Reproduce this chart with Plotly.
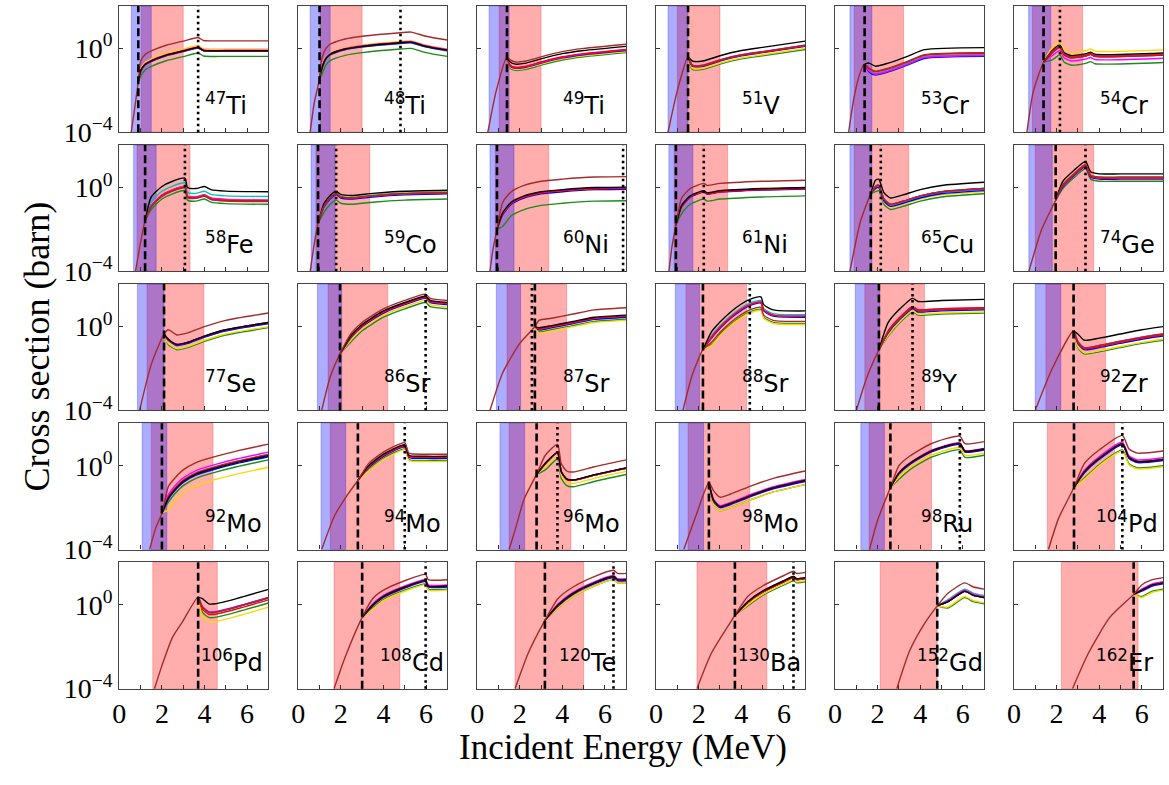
import numpy as np
import plotly.graph_objects as go

# ---------------- data ----------------
MASS = [47, 48, 49, 51, 53, 54, 58, 59, 60, 61, 65, 74, 77, 86, 87, 88, 89, 92,
        92, 94, 96, 98, 98, 104, 106, 108, 120, 130, 152, 162]
SYMBOL = ["Ti", "Ti", "Ti", "V", "Cr", "Cr", "Fe", "Co", "Ni", "Ni", "Cu", "Ge",
          "Se", "Sr", "Sr", "Sr", "Y", "Zr", "Mo", "Mo", "Mo", "Mo", "Ru", "Pd",
          "Pd", "Cd", "Te", "Ba", "Gd", "Er"]

BLUE_BAND = [(0.56, 1.5), (0.56, 1.5), (0.56, 1.5), (0.56, 1.5), (0.7, 1.73), (0.69, 1.73),
             (0.67, 1.73), (0.6, 1.73), (0.6, 1.73), (0.6, 1.73), (0.7, 1.73), (0.7, 1.8),
             (0.85, 2.1), (0.9, 2.04), (0.9, 2.04), (0.9, 2.04), (0.95, 2.1), (1.0, 2.2),
             (1.07, 2.23), (1.07, 2.23), (1.07, 2.23), (1.07, 2.23), (1.21, 2.32), None,
             None, None, None, None, None, None]
RED_BAND = [(1.03, 3.0), (1.03, 3.0), (1.03, 3.0), (1.0, 3.0), (0.9, 3.22), (0.87, 3.22),
            (0.83, 3.32), (0.83, 3.36), (0.85, 3.36), (0.85, 3.36), (0.9, 3.46), (1.0, 3.74),
            (1.3, 3.97), (1.4, 4.2), (1.4, 4.2), (1.4, 4.25), (1.4, 4.2), (1.5, 4.3),
            (1.5, 4.4), (1.5, 4.5), (1.5, 4.4), (1.5, 4.4), (1.6, 4.53), (1.57, 4.72),
            (1.57, 4.6), (1.68, 4.77), (1.78, 5.0), (1.92, 5.2), (2.12, 4.8), (2.23, 5.83)]
DASHED_E = [0.89, 1.0, 1.4, 1.5, 1.39, 1.39, 1.21, 0.93, 0.93, 0.93, 1.68, 1.96,
            2.1, 1.96, 2.71, 2.2, 2.06, 2.8, 2.0, 2.8, 2.79, 2.48, 2.6, 2.82,
            3.7, 3.0, 3.18, 3.7, 4.8, 5.62]
DOTTED_E = [3.7, 4.8, None, None, None, 2.16, 3.08, 1.78, 6.85, 2.24, 2.15, 3.36,
            None, 5.98, 2.57, 4.4, 3.64, None, None, 5.0, 3.77, None, 5.86, 5.09,
            None, 5.98, 6.4, 6.45, None, None]

# brown curve below the branching point (energy, log10 sigma)
PRE_E = [[0.56, 0.7, 0.89], [0.56, 0.75, 1.0], [0.5, 0.9, 1.4], [0.56, 1.0, 1.5],
         [0.64, 0.9, 1.2, 1.39], [0.61, 0.9, 1.39], [0.76, 1.0, 1.21], [0.56, 0.75, 0.93],
         [0.6, 0.75, 0.93], [0.6, 0.75, 0.93], [0.7, 1.2, 1.68], [0.7, 1.3, 1.96],
         [0.95, 1.5, 2.1], [1.1, 1.5, 1.96], [0.6, 1.2, 2.0, 2.71], [1.26, 1.7, 2.2],
         [1.0, 1.5, 2.06], [1.0, 1.8, 2.8], [1.42, 1.7, 2.0], [1.1, 1.7, 2.3, 2.8],
         [1.5, 1.8, 2.2, 2.79], [1.3, 1.9, 2.48], [1.62, 2.0, 2.6], [1.62, 2.1, 2.82],
         [1.65, 2.0, 2.5, 3.0, 3.7], [1.68, 2.2, 3.0], [1.78, 2.4, 3.18], [1.92, 2.6, 3.7],
         [2.9, 3.5, 4.2, 4.8], [2.75, 3.5, 4.5, 5.62]]
PRE_LOG = [[-4, -3.0, -1.6], [-4, -2.6, -1.44], [-4, -2.0, -0.4], [-4, -2.0, -0.4],
           [-4, -2.3, -1.1, -0.74], [-4, -2.1, -0.66], [-4, -2.6, -1.58], [-4, -2.7, -1.73],
           [-4, -2.9, -2.0], [-4, -2.8, -1.8], [-4, -1.6, -0.3], [-4, -2.0, -0.6],
           [-4, -1.8, -0.35], [-4, -2.4, -1.3], [-4, -2.2, -0.8, 0.0], [-4, -2.3, -1.1],
           [-4, -2.4, -1.1], [-4, -2.0, -0.2], [-4, -3.0, -2.26], [-4, -2.4, -1.4, -0.7],
           [-4, -3.0, -1.6, -0.41], [-4, -2.3, -0.8], [-4, -2.6, -1.04], [-4, -2.5, -1.04],
           [-4, -2.9, -1.54, -0.75, 0.37], [-4, -2.5, -0.6], [-4, -2.3, -0.74], [-4, -2.3, -0.5],
           [-4, -2.2, -0.9, -0.05], [-4, -2.3, -0.6, 0.5]]

# reference curve above the branching point (energy, log10 sigma)
MAIN_E = [[0.89, 1.0, 1.2, 1.5, 2.2, 3.0, 3.7, 3.95, 5, 7],
          [1.0, 1.1, 1.3, 1.5, 2.2, 3.0, 4.8, 5.3, 6.0, 7.0],
          [1.4, 1.55, 1.8, 2.3, 3, 4, 5, 7],
          [1.5, 1.7, 2.2, 3, 4, 5, 7],
          [1.39, 1.6, 1.9, 2.5, 3.4, 4.2, 7],
          [1.39, 1.8, 2.16, 2.35, 2.7, 3.4, 3.6, 3.8, 7],
          [1.21, 1.5, 2.0, 2.5, 3.08, 3.2, 3.6, 4.0, 4.3, 5.0, 7.0],
          [0.93, 1.2, 1.5, 1.78, 2.0, 2.5, 3.5, 5, 7],
          [0.93, 1.2, 1.6, 2.2, 3, 4, 5.5, 7],
          [0.93, 1.2, 1.6, 2.24, 2.4, 3, 5, 7],
          [1.68, 1.9, 2.05, 2.3, 2.6, 3.2, 4, 5, 7],
          [1.96, 2.3, 2.8, 3.36, 3.6, 4, 5, 7],
          [2.1, 2.3, 2.7, 3.2, 4, 5, 7],
          [1.96, 2.5, 3, 4, 5, 5.98, 6.2, 7],
          [2.71, 2.9, 3.5, 4.5, 5.5, 7],
          [2.2, 2.6, 3.0, 3.5, 4.0, 4.4, 4.92, 5.05, 5.5, 7],
          [2.06, 2.5, 3.0, 3.64, 3.9, 5, 7],
          [2.8, 3.0, 3.3, 4, 5, 6, 7],
          [2.0, 2.3, 2.6, 3.0, 3.6, 4.4, 5.5, 7],
          [2.8, 3.3, 4, 5.0, 5.2, 6, 7],
          [2.79, 3.2, 3.77, 3.95, 4.2, 4.5, 5.5, 7],
          [2.48, 2.7, 3.0, 3.5, 4.5, 5.5, 7],
          [2.6, 3.0, 3.5, 4.5, 5.86, 6.1, 7],
          [2.82, 3.3, 4, 5.09, 5.4, 5.8, 7],
          [3.7, 3.9, 4.2, 4.5, 5.5, 7],
          [3.0, 3.5, 4, 5, 5.98, 6.1, 7],
          [3.18, 3.8, 4.5, 5.5, 6.4, 6.6, 7],
          [3.7, 4.3, 5, 6, 6.45, 6.6, 7],
          [4.8, 5.3, 6.09, 6.5, 7],
          [5.62, 6.0, 6.5, 7]]
MAIN_LOG = [[-1.6, -1.1, -0.8, -0.62, -0.35, -0.15, 0.02, -0.12, -0.14, -0.14],
            [-1.44, -1.0, -0.5, -0.3, -0.05, 0.08, 0.25, 0.28, 0.08, -0.1],
            [-0.4, -0.85, -0.95, -0.9, -0.7, -0.45, -0.3, -0.1],
            [-0.4, -0.85, -0.85, -0.6, -0.35, -0.2, 0.1],
            [-0.74, -1.0, -1.15, -1.0, -0.68, -0.36, -0.26],
            [-0.66, -0.1, 0.15, -0.2, -0.35, -0.25, -0.18, -0.28, -0.22],
            [-1.58, -0.9, -0.4, -0.15, 0.0, -0.45, -0.5, -0.4, -0.55, -0.62, -0.65],
            [-1.73, -0.9, -0.5, -0.3, -0.45, -0.5, -0.4, -0.3, -0.25],
            [-2.0, -1.3, -0.8, -0.5, -0.3, -0.2, -0.1, -0.08],
            [-1.8, -0.9, -0.45, -0.2, -0.3, -0.2, -0.1, -0.05],
            [-0.3, 0.0, 0.05, -0.6, -0.85, -0.7, -0.45, -0.25, -0.1],
            [-0.6, 0.1, 0.6, 1.05, 0.55, 0.45, 0.45, 0.45],
            [-0.35, -0.7, -0.95, -0.85, -0.55, -0.25, 0.1],
            [-1.3, -0.5, 0.0, 0.65, 1.05, 1.35, 1.15, 1.05],
            [0.0, -0.15, -0.05, 0.15, 0.35, 0.45],
            [-1.1, -0.55, -0.08, 0.4, 0.78, 1.0, 1.12, 0.75, 0.5, 0.45],
            [-1.1, -0.3, 0.3, 0.85, 0.7, 0.75, 0.8],
            [-0.2, -0.8, -1.1, -1.0, -0.8, -0.6, -0.45],
            [-2.26, -1.6, -1.2, -0.8, -0.45, -0.19, 0.1, 0.43],
            [-0.7, -0.1, 0.45, 0.9, 0.4, 0.35, 0.35],
            [-0.41, 0.1, 0.62, -0.3, -0.65, -0.7, -0.45, -0.12],
            [-0.8, -1.7, -2.0, -1.85, -1.45, -1.1, -0.75],
            [-1.04, -0.35, 0.1, 0.7, 1.06, 0.7, 0.8],
            [-1.04, -0.3, 0.35, 1.05, 0.4, 0.2, 0.3],
            [0.37, -0.1, -0.35, -0.35, -0.1, 0.34],
            [-0.6, 0.0, 0.4, 0.85, 1.15, 0.9, 0.9],
            [-0.74, 0.0, 0.55, 1.05, 1.35, 1.2, 1.2],
            [-0.5, 0.1, 0.6, 1.1, 1.3, 1.2, 1.25],
            [-0.05, 0.15, 0.65, 0.45, 0.35],
            [0.5, 0.7, 0.95, 1.05]]

CURVE_COLORS = ["#a52a2a", "#000000", "#ff0000", "#ff00ff", "#0000ff", "#00bfbf", "#ffd700", "#1a8c1a"]
# log10 shift of each curve (brown, black, red, magenta, blue, cyan, gold, green) from the reference curve
OFFSETS = [[0.5, 0.03, 0.02, 0.05, 0, 0.02, 0.12, -0.24],
           [0.5, 0.02, 0.02, 0.05, 0, -0.02, 0.08, -0.28],
           [0.3, 0.2, 0.05, 0.03, 0, 0.02, -0.05, -0.1],
           [0.05, 0.25, 0.02, 0.05, 0, 0.03, -0.1, -0.15],
           [0.06, 0.3, 0.03, -0.08, -0.12, -0.04, 0.04, -0.06],
           [-0.05, 0, -0.1, -0.25, -0.1, -0.05, 0.15, -0.45],
           [-0.02, 0.45, 0, 0.05, 0.03, 0.22, 0.08, -0.15],
           [0, 0.12, 0, 0, -0.05, 0.03, 0.05, -0.3],
           [0.6, 0.1, 0.05, 0.05, 0, 0.05, 0.0, -0.55],
           [0.4, 0.05, 0, 0.02, -0.02, 0.03, 0, -0.35],
           [0.05, 0.35, 0.05, 0.05, -0.05, 0, -0.1, -0.2],
           [0.05, 0.2, 0, 0, -0.05, 0, 0.05, -0.15],
           [0.55, 0.1, 0.1, 0.1, 0.05, 0.05, -0.1, -0.15],
           [0.2, 0.1, 0.05, 0.05, 0, 0.05, -0.1, -0.2],
           [0.45, 0.1, 0.05, 0.05, 0, 0, -0.15, -0.1],
           [-0.2, 0.3, 0.05, 0.05, 0, 0.12, -0.35, -0.3],
           [0.05, 0.5, 0.1, 0.1, 0, 0.05, -0.1, -0.15],
           [0.1, 0.45, 0.05, 0.1, 0, 0.05, -0.15, -0.2],
           [0.6, 0.05, 0.1, 0.22, 0, 0.12, -0.5, -0.15],
           [0.2, 0.1, 0.05, 0.05, 0, 0.05, -0.15, -0.1],
           [0.4, 0.02, 0, 0.02, 0, 0, -0.15, -0.3],
           [0.5, 0.05, 0.05, 0.1, 0, 0.05, -0.15, -0.15],
           [0.35, 0, 0, 0.03, -0.05, 0, -0.2, -0.3],
           [0.4, 0, 0, 0.08, -0.05, 0, -0.35, -0.3],
           [0, 0.4, -0.1, 0.02, 0, -0.02, -0.45, -0.25],
           [0.3, 0, 0, 0.05, -0.05, 0, -0.2, -0.15],
           [0.3, 0, 0, 0.05, -0.05, 0, -0.15, -0.15],
           [0.3, 0.05, 0, 0.05, 0, 0.05, -0.1, -0.15],
           [0.4, 0, 0, 0.05, 0, 0.1, -0.25, -0.3],
           [0.25, 0, 0, 0.05, -0.05, 0.02, -0.35, -0.3]]

X_TICKS = [0, 1, 2, 3, 4, 5, 6, 7]
X_TICK_TEXT = ["0", "", "2", "", "4", "", "6", ""]

# ---------------- layout ----------------
W, H = 1169, 785
NROW, NCOL = 5, 6
LEFT0, PW, XSTEP = 113, 150, 180
TOP0, PH, YSTEP = 6, 129, 142
YLOG_RANGE = [-4, 2.03]

fig = go.Figure()
layout = dict(width=W, height=H, margin=dict(l=0, r=0, t=0, b=0),
              paper_bgcolor="white", plot_bgcolor="white", showlegend=False)
shapes, annotations = [], []
draw_order = [7, 6, 5, 4, 3, 2, 1, 0]

for i in range(NROW * NCOL):
    r, c = divmod(i, NCOL)
    n = i + 1
    xs = "x" if n == 1 else f"x{n}"
    ys = "y" if n == 1 else f"y{n}"
    xk = "xaxis" if n == 1 else f"xaxis{n}"
    yk = "yaxis" if n == 1 else f"yaxis{n}"
    x0 = (LEFT0 + c * XSTEP) / W
    x1 = (LEFT0 + c * XSTEP + PW) / W
    ytop = 1 - (TOP0 + r * YSTEP) / H
    ybot = 1 - (TOP0 + r * YSTEP + PH) / H
    bottom = (r == NROW - 1)
    first = (c == 0)
    layout[xk] = dict(domain=[x0, x1], range=[0, 7], anchor=ys,
                      tickvals=X_TICKS, ticktext=X_TICK_TEXT if bottom else [""] * 8,
                      ticks="inside", ticklen=4, tickcolor="#333",
                      showline=True, mirror=True, linecolor="#444", linewidth=1.3,
                      showgrid=False, zeroline=False,
                      tickfont=dict(family="Liberation Serif", size=28, color="black"))
    layout[yk] = dict(domain=[ybot, ytop], type="log", range=YLOG_RANGE, anchor=xs,
                      tickvals=[1e-4, 1],
                      ticktext=["10<sup>\u22124</sup>", "10<sup>0</sup>"] if first else ["", ""],
                      ticks="inside", ticklen=4, tickcolor="#333",
                      showline=True, mirror=True, linecolor="#444", linewidth=1.3,
                      showgrid=False, zeroline=False,
                      tickfont=dict(family="Liberation Serif", size=28, color="black"))

    # shaded bands: red below, blue on top
    rb = RED_BAND[i]
    if rb:
        shapes.append(dict(type="rect", xref=xs, yref=f"{ys} domain", x0=rb[0], x1=rb[1],
                           y0=0, y1=1, fillcolor="rgba(255,0,0,0.32)",
                           line=dict(width=1, color="rgba(255,0,0,0.25)"), layer="below"))
    bb = BLUE_BAND[i]
    if bb:
        shapes.append(dict(type="rect", xref=xs, yref=f"{ys} domain", x0=bb[0], x1=bb[1],
                           y0=0, y1=1, fillcolor="rgba(0,0,255,0.32)",
                           line=dict(width=1, color="rgba(0,0,255,0.25)"), layer="below"))

    # curves
    me = np.array(MAIN_E[i], dtype=float)
    ml = np.array(MAIN_LOG[i], dtype=float)
    for k in draw_order:
        off = OFFSETS[i][k]
        yl = ml.copy()
        yl[1:] = yl[1:] + off
        if k == 0:
            ex = np.concatenate([PRE_E[i][:-1], me])
            ly = np.concatenate([PRE_LOG[i][:-1], yl])
        else:
            ex, ly = me, yl
        fig.add_trace(go.Scatter(x=ex, y=10 ** ly, mode="lines", xaxis=xs, yaxis=ys,
                                 line=dict(color=CURVE_COLORS[k], width=1.4,
                                           shape="spline", smoothing=0.6),
                                 hoverinfo="skip"))

    # vertical markers
    shapes.append(dict(type="line", xref=xs, yref=f"{ys} domain", x0=DASHED_E[i], x1=DASHED_E[i],
                       y0=0, y1=1, line=dict(color="black", width=2.6, dash="8px,4px"), layer="above"))
    if DOTTED_E[i] is not None:
        shapes.append(dict(type="line", xref=xs, yref=f"{ys} domain", x0=DOTTED_E[i], x1=DOTTED_E[i],
                           y0=0, y1=1, line=dict(color="black", width=2.6, dash="2.5px,3.5px"), layer="above"))

    # isotope label
    lab_x = 3.95 - 0.2 * (len(str(MASS[i])) - 2)
    annotations.append(dict(xref=xs, yref=ys, x=lab_x, y=-3.0, xanchor="left", yanchor="bottom",
                            yshift=-11, showarrow=False,
                            text=f"<sup>{MASS[i]}</sup>{SYMBOL[i]}",
                            font=dict(family="DejaVu Sans", size=24, color="black")))

annotations.append(dict(xref="paper", yref="paper", x=30 / W, y=1 - 354 / H, showarrow=False,
                        xanchor="center", yanchor="middle",
                        text="Cross section (barn)", textangle=-90,
                        font=dict(family="Liberation Serif", size=36, color="black")))
annotations.append(dict(xref="paper", yref="paper", x=620 / W, y=1 - 763 / H, showarrow=False,
                        xanchor="center", yanchor="middle",
                        text="Incident Energy (MeV)",
                        font=dict(family="Liberation Serif", size=35, color="black")))

layout["shapes"] = shapes
layout["annotations"] = annotations
fig.update_layout(**layout)
fig.write_html("out.html", config={"displayModeBar": False},
               post_script="document.body.style.margin='0';document.body.style.overflow='hidden';")
